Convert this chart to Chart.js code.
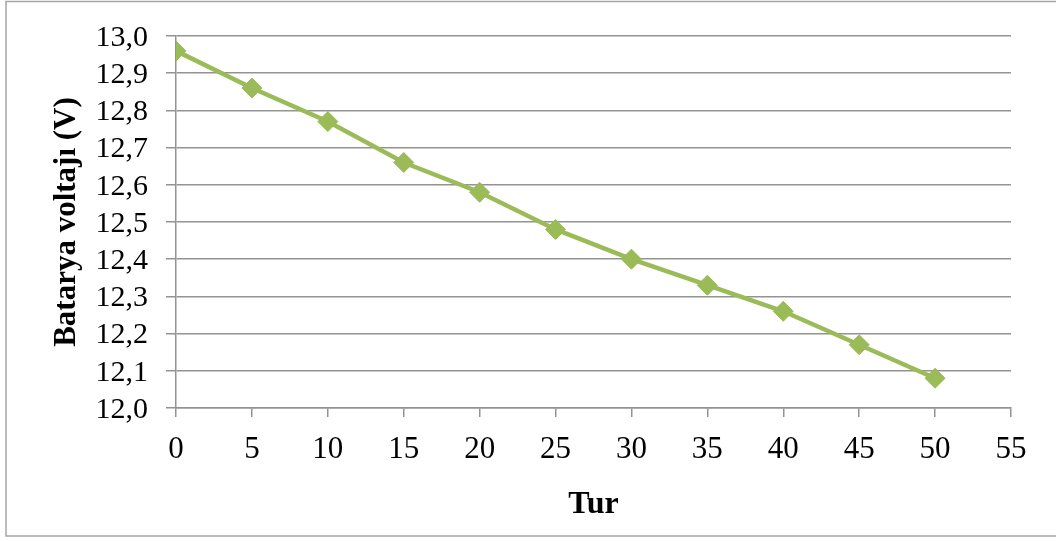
<!DOCTYPE html>
<html>
<head>
<meta charset="utf-8">
<script src="https://cdn.jsdelivr.net/npm/chart.js@4/dist/chart.umd.min.js"></script>
<style>
  html, body { margin: 0; padding: 0; background: #ffffff; }
  #wrap { width: 1056px; height: 541px; }
</style>
</head>
<body>
<div id="wrap"><canvas id="chart" width="1056" height="541"></canvas></div>
<script>
// Battery voltage measured after each group of laps
const turns = [0, 5, 10, 15, 20, 25, 30, 35, 40, 45, 50];
const voltages = [12.96, 12.86, 12.77, 12.66, 12.58, 12.48, 12.40, 12.33, 12.26, 12.17, 12.08];

const xTitle = 'Tur';
const yTitle = 'Batarya voltajı (V)';

const serif = "'Liberation Serif', 'Times New Roman', serif";
const gridColor = '#939393';
const seriesColor = '#9bbb59';

// White page with a thin grey frame around the chart
const frame = {
  id: 'frame',
  beforeDraw(chart) {
    const ctx = chart.ctx;
    ctx.save();
    ctx.fillStyle = '#ffffff';
    ctx.fillRect(0, 0, chart.width, chart.height);
    ctx.strokeStyle = '#a6a6a6';
    ctx.lineWidth = 1.5;
    ctx.strokeRect(6, 1.5, chart.width + 10, 534.5);
    ctx.restore();
  }
};

new Chart(document.getElementById('chart'), {
  type: 'line',
  data: {
    datasets: [{
      data: turns.map((t, i) => ({ x: t, y: voltages[i] })),
      borderColor: seriesColor,
      backgroundColor: seriesColor,
      borderWidth: 4.5,
      tension: 0,
      pointStyle: 'rectRot',
      pointRadius: 10,
      pointHoverRadius: 10,
      pointBorderWidth: 1,
      pointBorderColor: seriesColor,
      pointBackgroundColor: seriesColor
    }]
  },
  options: {
    responsive: false,
    animation: false,
    devicePixelRatio: 1,
    layout: { padding: { left: 0, right: 45, top: 35, bottom: 0 } },
    plugins: {
      legend: { display: false },
      tooltip: { enabled: false }
    },
    scales: {
      x: {
        type: 'linear',
        min: 0,
        max: 55,
        ticks: {
          stepSize: 5,
          autoSkip: false,
          color: '#000000',
          padding: 14,
          maxRotation: 0,
          font: { family: serif, size: 31 }
        },
        grid: {
          drawOnChartArea: false,
          drawTicks: true,
          tickLength: 9,
          color: gridColor,
          lineWidth: 1.5
        },
        border: { display: true, color: gridColor, width: 1.5 },
        title: {
          display: true,
          text: xTitle,
          color: '#000000',
          font: { family: serif, size: 32, weight: 'bold' },
          padding: { top: 0, bottom: 17 }
        },
        afterFit(scale) { scale.height = 541 - 408; }
      },
      y: {
        min: 12.0,
        max: 13.0,
        ticks: {
          stepSize: 0.1,
          autoSkip: false,
          color: '#000000',
          padding: 18,
          labelOffset: 2,
          font: { family: serif, size: 30 },
          callback: (v) => Number(v).toFixed(1).replace('.', ',')
        },
        grid: {
          drawTicks: true,
          tickLength: 10,
          color: gridColor,
          lineWidth: 1.5
        },
        border: { display: true, color: gridColor, width: 1.5 },
        title: {
          display: true,
          text: yTitle,
          color: '#000000',
          font: { family: serif, size: 31, weight: 'bold' },
          padding: { top: 48, bottom: 0 }
        },
        afterFit(scale) { scale.width = 176; }
      }
    }
  },
  plugins: [frame]
});
</script>
</body>
</html>
